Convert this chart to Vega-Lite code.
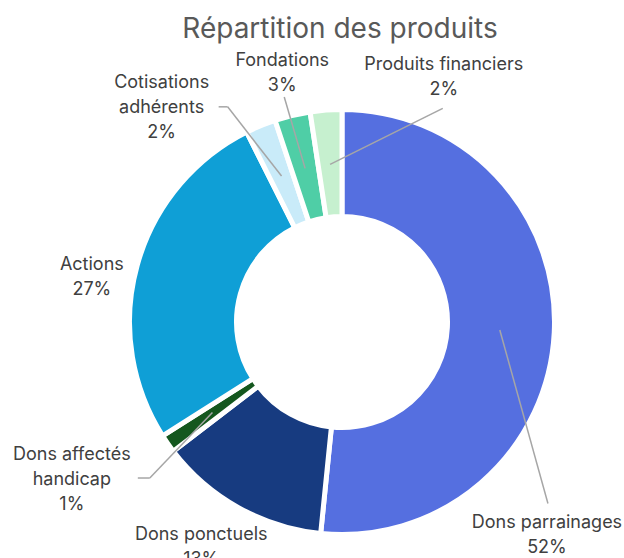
{
  "$schema": "https://vega.github.io/schema/vega-lite/v6.json",
  "width": 624,
  "height": 518,
  "autosize": {"type": "none"},
  "padding": {"top": 40, "left": 0, "right": 0, "bottom": 0},
  "background": "white",
  "title": {
    "text": "Répartition des produits",
    "font": "Inter",
    "fontSize": 28,
    "fontWeight": "normal",
    "color": "#595959",
    "anchor": "middle",
    "dx": 28,
    "dy": 8
  },
  "config": {"view": {"stroke": null}},
  "data": {
    "values": [
      {"category": "Dons parrainages", "label": "Dons parrainages", "value": 51.6},
      {"category": "Dons ponctuels", "label": "Dons ponctuels", "value": 13.0},
      {"category": "Dons affectés handicap", "label": "Dons affectés\nhandicap", "value": 1.4},
      {"category": "Actions", "label": "Actions", "value": 26.6},
      {"category": "Cotisations adhérents", "label": "Cotisations\nadhérents", "value": 2.3},
      {"category": "Fondations", "label": "Fondations", "value": 2.7},
      {"category": "Produits financiers", "label": "Produits financiers", "value": 2.4}
    ]
  },
  "transform": [
    {"window": [{"op": "row_number", "as": "ord"}]},
    {"joinaggregate": [{"op": "sum", "field": "value", "as": "total"}]},
    {"stack": "value", "groupby": [], "sort": [{"field": "ord", "order": "ascending"}], "as": ["v0", "v1"]},
    {"calculate": "PI * (datum.v0 + datum.v1) / datum.total", "as": "mid"},
    {"calculate": "158 * sin(datum.mid)", "as": "rx"},
    {"calculate": "158 * cos(datum.mid)", "as": "ry"},
    {"calculate": "datum.label + '\\n' + format(datum.value / datum.total, '.0%')", "as": "txt"},
    {"calculate": "{'Dons parrainages': 43.3, 'Dons ponctuels': 2.8, 'Dons affectés handicap': 4.6, 'Actions': -5.5, 'Cotisations adhérents': -17.6, 'Fondations': 0, 'Produits financiers': 26.9}[datum.category]", "as": "nudge"},
    {"calculate": "{'Dons parrainages': 296, 'Dons ponctuels': 266, 'Dons affectés handicap': 313, 'Actions': 254, 'Cotisations adhérents': 280, 'Fondations': 256, 'Produits financiers': 265}[datum.category]", "as": "dist"},
    {"calculate": "datum.mid + datum.nudge * PI / 180", "as": "la"},
    {"calculate": "datum.dist * sin(datum.la)", "as": "lx"},
    {"calculate": "datum.dist * cos(datum.la)", "as": "ly"},
    {"calculate": "datum.ly + (length(split(datum.txt, '\\n')) - 1) * 12.5", "as": "ty"},
    {"calculate": "{'Dons parrainages': 1, 'Dons ponctuels': 0, 'Dons affectés handicap': 66, 'Actions': 0, 'Cotisations adhérents': 57, 'Fondations': 2, 'Produits financiers': -1}[datum.category]", "as": "ox"},
    {"calculate": "{'Dons parrainages': 32, 'Dons ponctuels': 0, 'Dons affectés handicap': 2, 'Actions': 0, 'Cotisations adhérents': 1, 'Fondations': -24, 'Produits financiers': -31}[datum.category]", "as": "oy"},
    {"calculate": "datum.lx + datum.ox", "as": "ex"},
    {"calculate": "datum.ly + datum.oy", "as": "ey"},
    {"calculate": "datum.ex + ({'Dons affectés handicap': 12, 'Cotisations adhérents': 9}[datum.category] || 0)", "as": "kx"},
    {"calculate": "datum.ey", "as": "ky"}
  ],
  "layer": [
    {
      "mark": {"type": "arc", "outerRadius": 212.5, "innerRadius": 105.5, "stroke": "white", "strokeWidth": 5},
      "encoding": {
        "x": {"datum": 0, "type": "quantitative", "scale": {"domain": [-342, 282], "nice": false, "zero": false}, "axis": null},
        "y": {"datum": 0, "type": "quantitative", "scale": {"domain": [-236, 282], "nice": false, "zero": false}, "axis": null},
        "theta": {"field": "v0", "type": "quantitative", "scale": {"domain": [0, 100], "nice": false}},
        "theta2": {"field": "v1"},
        "color": {
          "field": "category",
          "type": "nominal",
          "scale": {
            "domain": ["Dons parrainages", "Dons ponctuels", "Dons affectés handicap", "Actions", "Cotisations adhérents", "Fondations", "Produits financiers"],
            "range": ["#556FE0", "#173B80", "#14571E", "#0F9FD6", "#C9EBF9", "#4FCEA6", "#C6F0CF"]
          },
          "legend": null
        }
      }
    },
    {
      "transform": [{"filter": "indexof(['Dons ponctuels', 'Actions'], datum.category) < 0"}],
      "mark": {"type": "rule", "color": "#A6A6A6", "strokeWidth": 1.5},
      "encoding": {
        "x": {"field": "rx", "type": "quantitative"},
        "y": {"field": "ry", "type": "quantitative"},
        "x2": {"field": "kx"},
        "y2": {"field": "ky"}
      }
    },
    {
      "transform": [{"filter": "indexof(['Dons affectés handicap', 'Cotisations adhérents'], datum.category) >= 0"}],
      "mark": {"type": "rule", "color": "#A6A6A6", "strokeWidth": 1.5},
      "encoding": {
        "x": {"field": "kx", "type": "quantitative"},
        "y": {"field": "ky", "type": "quantitative"},
        "x2": {"field": "ex"},
        "y2": {"field": "ey"}
      }
    },
    {
      "mark": {"type": "text", "font": "Inter", "fontSize": 18, "color": "#404040", "lineBreak": "\n", "lineHeight": 25, "align": "center", "baseline": "middle"},
      "encoding": {
        "x": {"field": "lx", "type": "quantitative"},
        "y": {"field": "ty", "type": "quantitative"},
        "text": {"field": "txt"}
      }
    }
  ]
}
